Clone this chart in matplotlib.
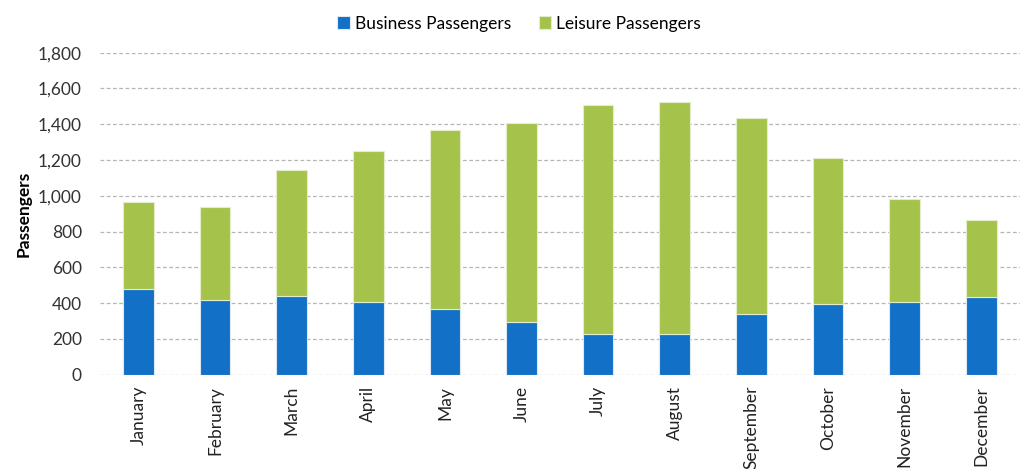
import numpy as np
import matplotlib.pyplot as plt
from matplotlib.ticker import FuncFormatter

plt.rcParams['font.family'] = ['Lato', 'DejaVu Sans']

months = ['January', 'February', 'March', 'April', 'May', 'June',
          'July', 'August', 'September', 'October', 'November', 'December']
business = [482, 415, 441, 408, 367, 296, 227, 230, 342, 397, 408, 437]
leisure = [481, 522, 706, 845, 1001, 1111, 1279, 1296, 1095, 815, 573, 429]

BLUE = '#1270C6'
GREEN = '#A5C24A'

fig = plt.figure(figsize=(10.24, 4.69), dpi=100)
ax = fig.add_axes([0.0977, 0.201, 0.898, 0.6866])

x = np.arange(len(months))
ax.bar(x, business, width=0.4, color=BLUE, edgecolor='#DDE8F4', linewidth=0.8,
       label='Business Passengers', zorder=3)
ax.bar(x, leisure, width=0.4, bottom=business, color=GREEN, edgecolor='#E4EDCB',
       linewidth=0.8, label='Leisure Passengers', zorder=3)

ax.set_xlim(-0.5, len(months) - 0.5)
ax.set_ylim(0, 1800)
ax.set_yticks(np.arange(0, 1801, 200))
ax.yaxis.set_major_formatter(FuncFormatter(lambda v, p: f'{int(v):,}'))
ax.set_xticks(x)
ax.set_xticklabels(months, rotation=90, fontsize=12.5, color='#222222')
ax.tick_params(axis='y', labelsize=12.5, labelcolor='#333333', length=0, pad=13)
ax.tick_params(axis='x', length=0, pad=8)

ax.yaxis.grid(True, linestyle=(0, (3, 2)), color='#B5B5B5', linewidth=0.9, zorder=0)
ax.set_axisbelow(True)
for s in ax.spines.values():
    s.set_visible(False)

ax.set_ylabel('Passengers', fontsize=12.5, fontweight='bold')
ax.yaxis.set_label_coords(-0.0745, 0.5)

fig.legend(loc='upper center', bbox_to_anchor=(0.507, 1.0), ncol=2, frameon=False,
           fontsize=12.5, handlelength=0.7, handleheight=0.7, handletextpad=0.3,
           columnspacing=1.6)

fig.savefig('out.png', dpi=100)
